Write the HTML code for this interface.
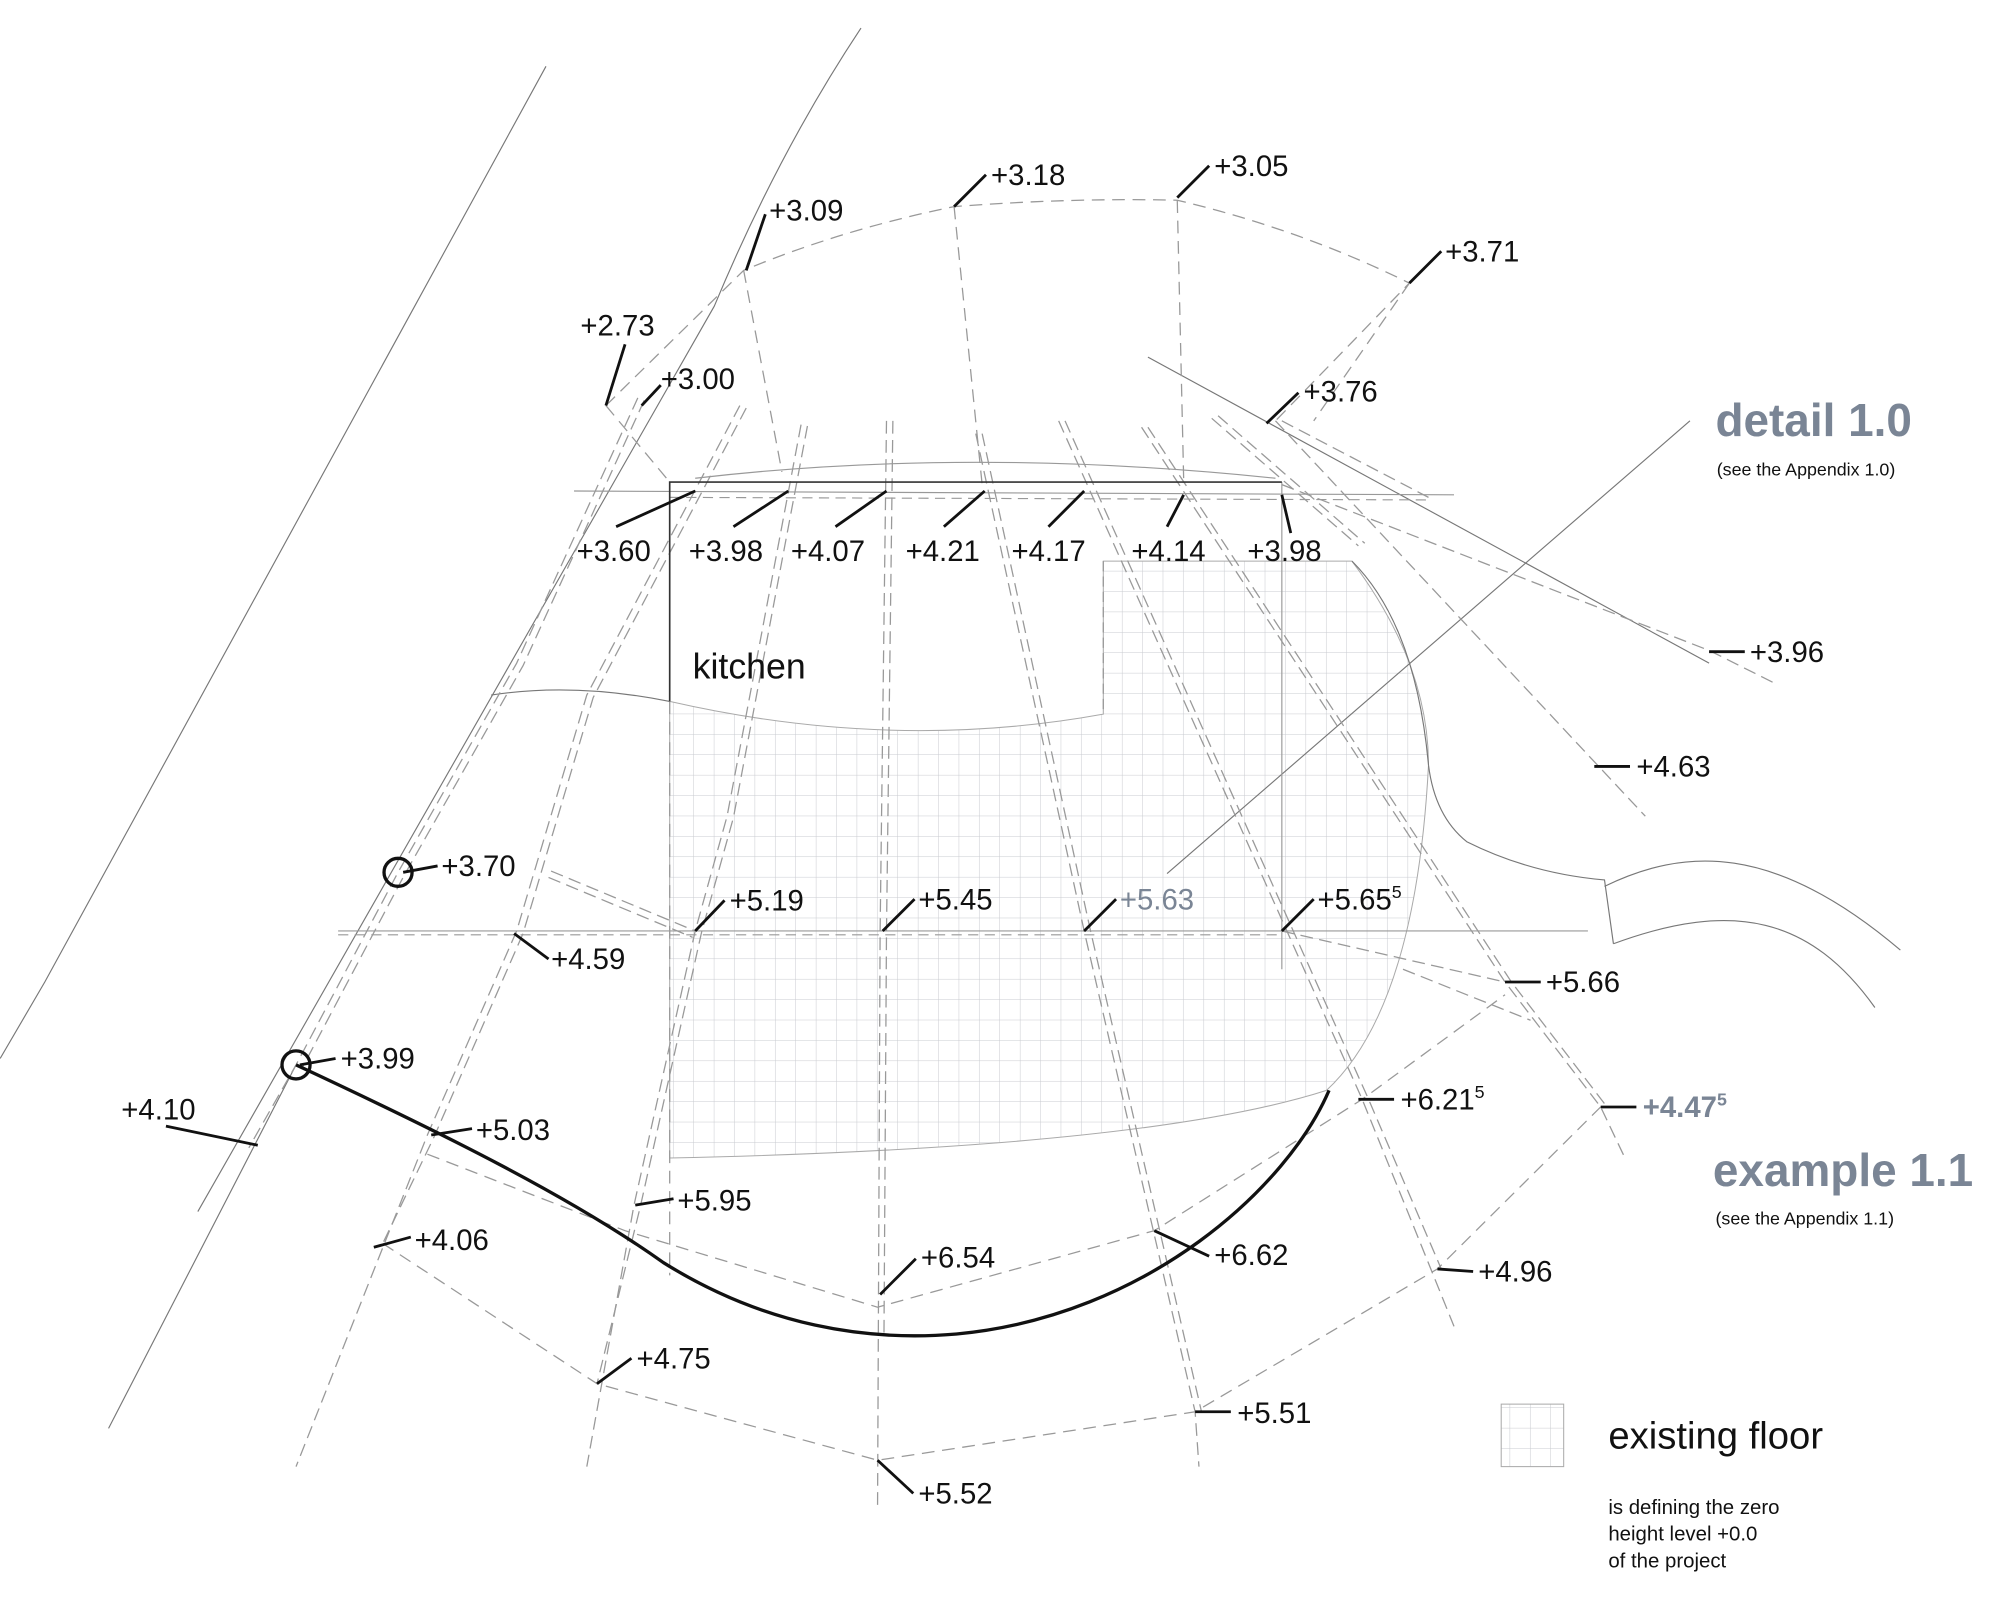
<!DOCTYPE html>
<html><head><meta charset="utf-8"><style>
html,body{margin:0;padding:0;background:#fff}
svg{display:block}
text{font-family:"Liberation Sans",sans-serif;fill:#111}
</style></head><body>
<svg width="2000" height="1612" viewBox="0 0 1568 1264" xmlns="http://www.w3.org/2000/svg">
<defs>
<pattern id="g" width="16" height="16" patternUnits="userSpaceOnUse">
<path d="M16 0V16M0 16H16" fill="none" stroke="#c9cbd0" stroke-width="0.8"/>
</pattern>
</defs>
<rect width="1568" height="1264" fill="#fff"/>
<path d="M525,550 Q700,590 865,560 L865,440 L1060,440 Q1120,520 1120,600 Q1110,790 1040,855 Q900,900 525,908 Z" fill="url(#g)" stroke="#aaa" stroke-width="0.8"/>
<g fill="none" stroke="#777" stroke-width="0.9">
<path d="M428,52 L35,770 L0,830"/>
<path d="M675,22 Q610,120 560,240 L155,950"/>
<path d="M1325,330 L915,685"/>
<path d="M1120,600 Q1125,640 1150,660 Q1200,685 1258,690 L1265,740"/>
<path d="M1258,695 C1320,665 1390,660 1490,745"/>
<path d="M1265,740 C1360,705 1420,720 1470,790"/>
<path d="M1120,600 Q1110,490 1060,440"/>
<path d="M385,545 Q450,535 525,550"/>
<path d="M232,835 L85,1120"/>
<path d="M900,280 L1340,520"/>
</g>
<g stroke="#999" stroke-width="0.9" fill="none">
<path d="M265,730 L1245,730"/><path d="M265,733 L1005,733" stroke-dasharray="8 5"/>
<path d="M450,385 L1140,388"/><path d="M525,390 L1120,392" stroke-dasharray="8 5"/>
<path d="M1005,378 L1005,760"/>
<path d="M545,375 Q760,350 1000,375"/>
</g>
<g fill="none" stroke="#999" stroke-width="1" stroke-dasharray="10 5">
<path d="M500,312 L405,520 L312,684 L232,835 L195,900"/><path d="M505,314 L410,522 L317,686 L237,837"/>
<path d="M580,318 L460,545 L405,730 L335,890 L232,1150"/><path d="M585,320 L465,547 L410,732 L340,892 L300,975"/>
<path d="M628,333 L570,640 L545,730 L497,945 L460,1150"/><path d="M633,334 L575,641 L550,731 L502,946 L468,1085"/>
<path d="M695,330 L690,730 L688,1180"/><path d="M700,330 L695,730 L693,1050"/>
<path d="M765,340 L850,730 L937,1107 L940,1150"/><path d="M770,340 L855,730 L942,1107"/>
<path d="M830,330 L1068,862 L1140,1040"/><path d="M835,330 L1073,862 L1130,995"/>
<path d="M895,335 L1180,770 L1255,868 L1275,910"/><path d="M900,335 L1185,770 L1260,868"/>
<path d="M950,328 L1065,428"/><path d="M955,326 L1070,426"/>
<path d="M1005,380 L1340,510 L1390,535"/><path d="M1000,330 L1290,640"/><path d="M1005,330 L1120,390"/>
<path d="M432,683 L545,730"/><path d="M430,688 L543,735"/>
<path d="M1005,730 L1180,770"/><path d="M1100,760 L1200,800"/>
</g>
<g fill="none" stroke="#999" stroke-width="1" stroke-dasharray="10 6">
<path d="M475,318 L583,212 Q660,180 748,162 Q840,155 923,157 Q1020,180 1105,222 L1000,330"/>
<path d="M583,212 L613,370 M748,162 L770,380 M923,157 L928,375 M1105,222 L1030,330"/>
<path d="M475,318 L525,378"/>
<path d="M300,975 L468,1085 L688,1145 L937,1107 L1127,995 L1255,868"/>
<path d="M335,905 L490,965 L688,1025 L905,965 L1068,862 L1180,780"/>
<path d="M525,550 L525,1000"/>
</g>
<path d="M525,550 L525,378 L1005,378" fill="none" stroke="#333" stroke-width="1.3"/>
<path d="M865,440 L865,560" fill="none" stroke="#999" stroke-dasharray="8 4"/>
<path d="M232,835 C350,890 450,940 520,990 C600,1040 680,1052 750,1046 C900,1032 1010,930 1042,855" fill="none" stroke="#111" stroke-width="2.6"/>
<circle cx="312" cy="684" r="11" fill="none" stroke="#111" stroke-width="2.6"/>
<circle cx="232" cy="835" r="11" fill="none" stroke="#111" stroke-width="2.6"/>
<g stroke="#111" stroke-width="2.2" fill="none">
<path d="M600,168 L585,212"/><path d="M773,137 L748,162"/><path d="M948,130 L923,155"/><path d="M1130,197 L1105,222"/>
<path d="M490,270 L475,318"/><path d="M518,302 L503,318"/><path d="M1018,308 L993,332"/>
<path d="M483,413 L545,385"/><path d="M575,413 L618,385"/><path d="M655,413 L695,385"/><path d="M740,413 L772,385"/>
<path d="M822,413 L850,385"/><path d="M915,413 L928,388"/><path d="M1012,418 L1005,388"/>
<path d="M1340,511 L1368,511"/><path d="M1250,601 L1278,601"/><path d="M316,684 L343,679"/>
<path d="M545,730 L568,706"/><path d="M692,730 L717,705"/><path d="M850,730 L875,705"/><path d="M1005,730 L1030,705"/>
<path d="M403,732 L430,752"/><path d="M1180,770 L1208,770"/><path d="M235,835 L263,830"/><path d="M130,883 L202,898"/>
<path d="M1065,862 L1093,862"/><path d="M1255,868 L1283,868"/><path d="M338,890 L370,885"/><path d="M498,945 L528,940"/>
<path d="M293,978 L322,970"/><path d="M690,1015 L718,987"/><path d="M905,965 L948,985"/><path d="M1127,995 L1155,997"/>
<path d="M468,1085 L495,1065"/><path d="M937,1107 L965,1107"/><path d="M688,1145 L716,1171"/>
</g>
<g font-size="23">
<text x="603" y="173">+3.09</text><text x="777" y="145">+3.18</text><text x="952" y="138">+3.05</text><text x="1133" y="205">+3.71</text>
<text x="455" y="263">+2.73</text><text x="518" y="305">+3.00</text><text x="1022" y="315">+3.76</text>
<text x="452" y="440">+3.60</text><text x="540" y="440">+3.98</text><text x="620" y="440">+4.07</text><text x="710" y="440">+4.21</text>
<text x="793" y="440">+4.17</text><text x="887" y="440">+4.14</text><text x="978" y="440">+3.98</text>
<text x="1372" y="519">+3.96</text><text x="1283" y="609">+4.63</text><text x="346" y="687">+3.70</text>
<text x="572" y="714">+5.19</text><text x="720" y="713">+5.45</text><text x="878" y="713" style="fill:#7a8595">+5.63</text>
<text x="1033" y="713">+5.65<tspan font-size="14" dy="-9">5</tspan></text>
<text x="432" y="760">+4.59</text><text x="1212" y="778">+5.66</text><text x="267" y="838">+3.99</text><text x="95" y="878">+4.10</text>
<text x="1098" y="870">+6.21<tspan font-size="14" dy="-9">5</tspan></text>
<text x="1288" y="876" font-weight="bold" style="fill:#7a8595">+4.47<tspan font-size="14" dy="-9">5</tspan></text>
<text x="373" y="894">+5.03</text><text x="531" y="949">+5.95</text><text x="325" y="980">+4.06</text><text x="722" y="994">+6.54</text>
<text x="952" y="992">+6.62</text><text x="1159" y="1005">+4.96</text><text x="499" y="1073">+4.75</text><text x="970" y="1116">+5.51</text>
<text x="720" y="1179">+5.52</text>
</g>
<text x="543" y="532" font-size="28">kitchen</text>
<text x="1345" y="342" font-size="36" font-weight="bold" style="fill:#7a8595">detail 1.0</text>
<text x="1346" y="373" font-size="14">(see the Appendix 1.0)</text>
<text x="1343" y="930" font-size="36" font-weight="bold" style="fill:#7a8595">example 1.1</text>
<text x="1345" y="960" font-size="14">(see the Appendix 1.1)</text>
<rect x="1177" y="1101" width="49" height="49" fill="url(#g)" stroke="#aaa" stroke-width="0.8"/>
<text x="1261" y="1136" font-size="30">existing floor</text>
<text x="1261" y="1187" font-size="16">is defining the zero</text>
<text x="1261" y="1208" font-size="16">height level    +0.0</text>
<text x="1261" y="1229" font-size="16">of the project</text>
</svg>
</body></html>
